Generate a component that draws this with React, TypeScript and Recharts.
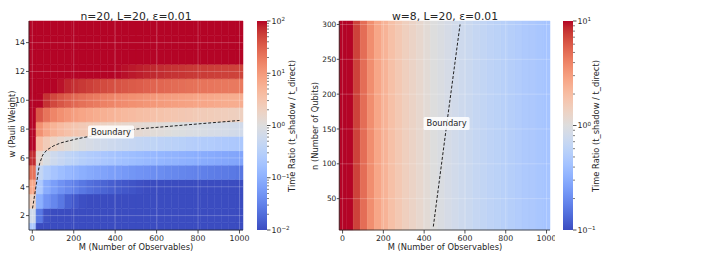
import React from 'react';
import {
  ComposedChart,
  XAxis,
  YAxis,
  ReferenceArea,
  ReferenceLine,
  ReferenceDot,
  Line,
} from 'recharts';

const FONT = '"DejaVu Sans", Verdana, sans-serif';
const INK = '#262626';

// ---------- categories ----------
const observablesM = [1, 35, 70, 104, 139, 173, 208, 242, 277, 311, 345, 380, 414, 449, 483, 518, 552, 587, 621, 656, 690, 724, 759, 793, 828, 862, 897, 931, 966, 1000];
const pauliWeightW = [1, 2, 3, 4, 5, 6, 7, 8, 9, 10, 11, 12, 13, 14, 15];
const qubitsN = [10, 20, 30, 40, 50, 60, 70, 80, 90, 100, 110, 120, 130, 140, 150, 160, 170, 180, 190, 200, 210, 220, 230, 240, 250, 260, 270, 280, 290, 300];

// ---------- left panel: log10(time ratio) per Pauli weight row ----------
const logRatioW1 = [-0.65, -2.1, -2.3, -2.4, -2.5, -2.55, -2.6, -2.65, -2.7, -2.7, -2.75, -2.8, -2.8, -2.85, -2.85, -2.9, -2.9, -2.95, -2.95, -3.0, -3.0, -3.0, -3.05, -3.05, -3.1, -3.1, -3.1, -3.15, -3.15, -3.15];
const logRatioW2 = [-0.2, -1.6, -1.95, -2.1, -2.2, -2.3, -2.35, -2.4, -2.45, -2.5, -2.55, -2.6, -2.6, -2.65, -2.7, -2.7, -2.75, -2.75, -2.8, -2.8, -2.85, -2.85, -2.9, -2.9, -2.9, -2.95, -2.95, -3.0, -3.0, -3.0];
const logRatioW3 = [0.3, -1.0, -1.3, -1.45, -1.6, -1.8, -1.9, -1.97, -2.02, -2.06, -2.1, -2.14, -2.18, -2.21, -2.24, -2.27, -2.3, -2.32, -2.35, -2.37, -2.39, -2.41, -2.43, -2.45, -2.47, -2.49, -2.51, -2.53, -2.54, -2.56];
const logRatioW4 = [0.85, -0.62, -1.05, -1.2, -1.33, -1.43, -1.52, -1.6, -1.67, -1.73, -1.78, -1.83, -1.87, -1.9, -1.93, -1.96, -1.99, -2.02, -2.04, -2.06, -2.08, -2.1, -2.12, -2.14, -2.16, -2.18, -2.2, -2.21, -2.23, -2.25];
const logRatioW5 = [1.35, -0.35, -0.57, -0.71, -0.81, -0.89, -0.96, -1.01, -1.07, -1.11, -1.15, -1.19, -1.22, -1.26, -1.29, -1.32, -1.34, -1.37, -1.39, -1.42, -1.44, -1.46, -1.48, -1.5, -1.52, -1.54, -1.56, -1.57, -1.59, -1.61];
const logRatioW6 = [1.85, 0.13, -0.09, -0.23, -0.33, -0.41, -0.48, -0.54, -0.59, -0.63, -0.67, -0.71, -0.75, -0.78, -0.81, -0.84, -0.87, -0.89, -0.92, -0.94, -0.96, -0.98, -1.0, -1.02, -1.04, -1.06, -1.08, -1.1, -1.11, -1.13];
const logRatioW7 = [2.3, 0.61, 0.39, 0.25, 0.15, 0.07, 0.0, -0.06, -0.11, -0.16, -0.2, -0.24, -0.27, -0.3, -0.33, -0.36, -0.39, -0.41, -0.44, -0.46, -0.48, -0.5, -0.53, -0.55, -0.57, -0.58, -0.6, -0.62, -0.64, -0.65];
const logRatioW8 = [2.6, 1.09, 0.86, 0.73, 0.62, 0.54, 0.48, 0.42, 0.37, 0.32, 0.28, 0.24, 0.21, 0.18, 0.15, 0.12, 0.09, 0.06, 0.04, 0.02, -0.01, -0.03, -0.05, -0.07, -0.09, -0.11, -0.12, -0.14, -0.16, -0.18];
const logRatioW9 = [2.9, 1.56, 1.34, 1.2, 1.1, 1.02, 0.95, 0.89, 0.84, 0.8, 0.76, 0.72, 0.69, 0.65, 0.62, 0.59, 0.57, 0.54, 0.52, 0.49, 0.47, 0.45, 0.43, 0.41, 0.39, 0.37, 0.35, 0.34, 0.32, 0.3];
const logRatioW10 = [3.2, 2.04, 1.82, 1.68, 1.58, 1.5, 1.43, 1.37, 1.32, 1.28, 1.23, 1.2, 1.16, 1.13, 1.1, 1.07, 1.04, 1.02, 0.99, 0.97, 0.95, 0.93, 0.91, 0.89, 0.87, 0.85, 0.83, 0.81, 0.8, 0.78];
const logRatioW11 = [3.4, 2.42, 2.19, 2.06, 1.95, 1.88, 1.83, 1.78, 1.74, 1.7, 1.66, 1.63, 1.6, 1.57, 1.54, 1.52, 1.49, 1.47, 1.45, 1.43, 1.41, 1.39, 1.37, 1.36, 1.34, 1.33, 1.32, 1.31, 1.3, 1.29];
const logRatioW12 = [3.9, 2.91, 2.69, 2.55, 2.45, 2.37, 2.3, 2.25, 2.19, 2.15, 2.08, 2.03, 1.99, 1.96, 1.93, 1.91, 1.89, 1.87, 1.85, 1.83, 1.81, 1.8, 1.78, 1.77, 1.76, 1.75, 1.74, 1.73, 1.72, 1.71];
const logRatioW13 = [4.2, 3.4, 3.2, 3.0, 2.9, 2.85, 2.8, 2.7, 2.65, 2.6, 2.6, 2.55, 2.5, 2.5, 2.45, 2.45, 2.4, 2.4, 2.35, 2.35, 2.35, 2.3, 2.3, 2.3, 2.25, 2.25, 2.25, 2.2, 2.2, 2.2];
const logRatioW14 = [4.7, 3.9, 3.7, 3.5, 3.4, 3.3, 3.3, 3.2, 3.1, 3.1, 3.1, 3.0, 3.0, 3.0, 2.9, 2.9, 2.9, 2.9, 2.8, 2.8, 2.8, 2.8, 2.8, 2.8, 2.7, 2.7, 2.7, 2.7, 2.7, 2.7];
const logRatioW15 = [5.2, 4.4, 4.2, 4.0, 3.9, 3.8, 3.8, 3.7, 3.6, 3.6, 3.6, 3.5, 3.5, 3.5, 3.4, 3.4, 3.4, 3.4, 3.3, 3.3, 3.3, 3.3, 3.3, 3.3, 3.2, 3.2, 3.2, 3.2, 3.2, 3.2];
const leftRows = [logRatioW1, logRatioW2, logRatioW3, logRatioW4, logRatioW5, logRatioW6, logRatioW7, logRatioW8, logRatioW9, logRatioW10, logRatioW11, logRatioW12, logRatioW13, logRatioW14, logRatioW15];

// ---------- right panel: log10(time ratio) per M column (w=8) ----------
const logRatioRight = [1.5, 1.15, 0.86, 0.7, 0.56, 0.44, 0.36, 0.28, 0.22, 0.16, 0.12, 0.08, 0.04, 0.0, -0.03, -0.06, -0.09, -0.12, -0.14, -0.17, -0.19, -0.21, -0.23, -0.25, -0.27, -0.29, -0.31, -0.32, -0.34, -0.36];

// ---------- boundary curves (ratio = 1) ----------
const boundaryLeft = [
  { M: 1, w: 2.5 },
  { M: 35, w: 5.6 },
  { M: 50, w: 6.2 },
  { M: 70, w: 6.55 },
  { M: 104, w: 6.85 },
  { M: 139, w: 7.05 },
  { M: 208, w: 7.3 },
  { M: 277, w: 7.5 },
  { M: 500, w: 8.0 },
  { M: 1000, w: 8.6 },
];
const boundaryRight = [
  { M: 445, n: 10 },
  { M: 510, n: 155 },
  { M: 576, n: 300 },
];
const boundaryLabelLeft = { M: 380, w: 7.8 };
const boundaryLabelRight = { M: 510, n: 158 };

// ---------- ticks / labels ----------
const mTicks = [0, 200, 400, 600, 800, 1000];
const wTicks = [2, 4, 6, 8, 10, 12, 14];
const nTicks = [50, 100, 150, 200, 250, 300];
const cbLeftMajor = [0.01, 0.1, 1, 10, 100];
const cbRightMajor = [0.1, 1, 10];
const minorSteps = [2, 3, 4, 5, 6, 7, 8, 9];
const W_AXIS_MIN = 1;

// ---------- coolwarm colormap ----------
const COOLWARM: number[][] = [
  [59, 76, 192], [68, 90, 204], [77, 104, 215], [87, 117, 225], [98, 130, 234], [108, 142, 241],
  [119, 154, 247], [130, 165, 251], [141, 176, 254], [152, 185, 255], [163, 194, 255], [174, 201, 253],
  [184, 208, 249], [194, 213, 244], [204, 217, 238], [213, 219, 230], [221, 221, 221], [229, 216, 209],
  [236, 211, 197], [241, 204, 185], [245, 196, 173], [247, 187, 160], [247, 177, 148], [247, 166, 135],
  [244, 154, 123], [241, 141, 111], [236, 127, 99], [229, 112, 88], [222, 96, 77], [213, 80, 66],
  [203, 62, 56], [192, 40, 47], [180, 4, 38],
];
function coolwarm(t: number): string {
  const tt = Math.max(0, Math.min(1, t));
  const p = tt * (COOLWARM.length - 1);
  const i = Math.min(Math.floor(p), COOLWARM.length - 2);
  const f = p - i;
  const a = COOLWARM[i];
  const b = COOLWARM[i + 1];
  const c = a.map((v, k) => Math.round(v + (b[k] - v) * f));
  return `rgb(${c[0]},${c[1]},${c[2]})`;
}

function edges(v: number[]): number[] {
  const e = [v[0] - (v[1] - v[0]) / 2];
  for (let i = 1; i < v.length; i++) e.push((v[i - 1] + v[i]) / 2);
  e.push(v[v.length - 1] + (v[v.length - 1] - v[v.length - 2]) / 2);
  return e;
}

const mEdges = edges(observablesM);
const wEdges = edges(pauliWeightW);
const nEdges = edges(qubitsN);

const axisTick = { fontSize: 7.8, fill: INK };
const axisStroke = { stroke: INK, strokeWidth: 0.8 };

const BoundaryLabel = (props: any) => {
  const vb = props.viewBox || {};
  const cx = (vb.x ?? 0) + (vb.width ?? 0) / 2;
  const cy = (vb.y ?? 0) + (vb.height ?? 0) / 2;
  return (
    <g>
      <rect x={cx - 23} y={cy - 6.5} width={46} height={13} rx={1.5} fill="#ffffff" fillOpacity={0.85} />
      <text x={cx} y={cy} dy="0.35em" textAnchor="middle" fontSize={8.3} fill={INK}>
        Boundary
      </text>
    </g>
  );
};

const CbTick = (props: any) => {
  const { x, y, payload } = props;
  const v = payload.value;
  const lg = Math.log10(v);
  const e = Math.round(lg);
  const major = Math.abs(lg - e) < 1e-6;
  const x0 = x - 4.5;
  return (
    <g>
      <line x1={x0} x2={x0 + (major ? 3.5 : 2)} y1={y} y2={y} stroke={INK} strokeWidth={major ? 0.8 : 0.6} />
      {major && (
        <text x={x} y={y} dy="0.33em" fontSize={7.8} fill={INK}>
          10
          <tspan dy="-0.45em" fontSize={5.6}>
            {e < 0 ? '\u2212' + -e : String(e)}
          </tspan>
        </text>
      )}
    </g>
  );
};

function ColorBar({ left, majors, id }: { left: number; majors: number[]; id: string }) {
  const domain = [majors[0], majors[majors.length - 1]];
  const ticks: number[] = [];
  majors.forEach((d, i) => {
    ticks.push(d);
    if (i < majors.length - 1) minorSteps.forEach((s) => ticks.push(d * s));
  });
  return (
    <div style={{ position: 'absolute', left, top: 0 }}>
      <ComposedChart width={48} height={262} margin={{ top: 21, right: 0, left: 7, bottom: 32 }} data={[{ x: 0 }, { x: 1 }]}>
        <defs>
          <linearGradient id={id} x1="0" y1="1" x2="0" y2="0">
            {COOLWARM.map((c, i) => (
              <stop key={i} offset={`${(i / (COOLWARM.length - 1)) * 100}%`} stopColor={`rgb(${c[0]},${c[1]},${c[2]})`} />
            ))}
          </linearGradient>
        </defs>
        <XAxis type="number" dataKey="x" domain={[0, 1]} hide />
        <YAxis
          type="number"
          orientation="right"
          scale="log"
          domain={domain}
          allowDataOverflow
          ticks={ticks}
          interval={0}
          width={31}
          axisLine={false}
          tickLine={false}
          tickSize={3.5}
          tickMargin={1}
          tick={<CbTick />}
        />
        <ReferenceArea x1={0} x2={1} y1={domain[0]} y2={domain[1]} fill={`url(#${id})`} fillOpacity={1} ifOverflow="visible" />
      </ComposedChart>
    </div>
  );
}

function LeftHeatmap() {
  const cells: React.ReactNode[] = [];
  pauliWeightW.forEach((w, r) => {
    observablesM.forEach((m, c) => {
      const v = leftRows[r][c];
      if (v === undefined) return;
      const color = coolwarm((v + 2) / 4);
      cells.push(
        <ReferenceArea
          key={`L${r}-${c}`}
          x1={mEdges[c]}
          x2={mEdges[c + 1]}
          y1={Math.max(wEdges[r], W_AXIS_MIN)}
          y2={wEdges[r + 1]}
          fill={color}
          fillOpacity={1}
          stroke={color}
          strokeWidth={0.5}
          ifOverflow="visible"
        />
      );
    });
  });
  return (
    <div style={{ position: 'absolute', left: 0, top: 0 }}>
      <ComposedChart width={250} height={262} data={boundaryLeft} margin={{ top: 21, right: 7, left: 0, bottom: 0 }}>
        <XAxis
          type="number"
          dataKey="M"
          domain={[mEdges[0], mEdges[mEdges.length - 1]]}
          allowDataOverflow
          ticks={mTicks}
          interval={0}
          height={32}
          tick={axisTick}
          tickLine={axisStroke}
          axisLine={axisStroke}
          tickSize={3.5}
          tickMargin={2}
        />
        <YAxis
          type="number"
          domain={[W_AXIS_MIN, wEdges[wEdges.length - 1]]}
          allowDataOverflow
          ticks={wTicks}
          interval={0}
          width={29}
          tick={axisTick}
          tickLine={axisStroke}
          axisLine={axisStroke}
          tickSize={3}
          tickMargin={1}
        />
        {cells}
        {mTicks.map((t) => (
          <ReferenceLine key={`gx${t}`} x={t} stroke="#ffffff" strokeOpacity={0.28} strokeWidth={0.8} />
        ))}
        {wTicks.map((t) => (
          <ReferenceLine key={`gy${t}`} y={t} stroke="#ffffff" strokeOpacity={0.28} strokeWidth={0.8} />
        ))}
        <Line dataKey="w" type="linear" stroke="#222" strokeWidth={1} strokeDasharray="3 1.8" dot={false} isAnimationActive={false} />
        <ReferenceDot x={boundaryLabelLeft.M} y={boundaryLabelLeft.w} r={1} fill="none" stroke="none" label={<BoundaryLabel />} />
      </ComposedChart>
    </div>
  );
}

function RightHeatmap() {
  const cells = observablesM.map((m, c) => {
    const color = coolwarm((logRatioRight[c] + 1) / 2);
    return (
      <ReferenceArea
        key={`R${c}`}
        x1={mEdges[c]}
        x2={mEdges[c + 1]}
        y1={nEdges[0]}
        y2={nEdges[nEdges.length - 1]}
        fill={color}
        fillOpacity={1}
        stroke={color}
        strokeWidth={0.5}
        ifOverflow="visible"
      />
    );
  });
  return (
    <div style={{ position: 'absolute', left: 310, top: 0 }}>
      <ComposedChart width={245} height={262} data={boundaryRight} margin={{ top: 21, right: 5, left: 0, bottom: 0 }}>
        <XAxis
          type="number"
          dataKey="M"
          domain={[mEdges[0], mEdges[mEdges.length - 1]]}
          allowDataOverflow
          ticks={mTicks}
          interval={0}
          height={32}
          tick={axisTick}
          tickLine={axisStroke}
          axisLine={axisStroke}
          tickSize={3.5}
          tickMargin={2}
        />
        <YAxis
          type="number"
          domain={[nEdges[0], nEdges[nEdges.length - 1]]}
          allowDataOverflow
          ticks={nTicks}
          interval={0}
          width={29.3}
          tick={{ fontSize: 7.4, fill: INK }}
          tickLine={axisStroke}
          axisLine={axisStroke}
          tickSize={2.5}
          tickMargin={0.5}
        />
        {cells}
        {mTicks.map((t) => (
          <ReferenceLine key={`gx${t}`} x={t} stroke="#ffffff" strokeOpacity={0.28} strokeWidth={0.8} />
        ))}
        {nTicks.map((t) => (
          <ReferenceLine key={`gy${t}`} y={t} stroke="#ffffff" strokeOpacity={0.28} strokeWidth={0.8} />
        ))}
        <Line dataKey="n" type="linear" stroke="#222" strokeWidth={1} strokeDasharray="3 1.8" dot={false} isAnimationActive={false} />
        <ReferenceDot x={boundaryLabelRight.M} y={boundaryLabelRight.n} r={1} fill="none" stroke="none" label={<BoundaryLabel />} />
      </ComposedChart>
    </div>
  );
}

export default function App() {
  return (
    <div style={{ position: 'absolute', left: 0, top: 0, width: 718, height: 262, background: '#ffffff', fontFamily: FONT, overflow: 'hidden' }}>
      <LeftHeatmap />
      <ColorBar left={250} majors={cbLeftMajor} id="cbLeft" />
      <RightHeatmap />
      <ColorBar left={556} majors={cbRightMajor} id="cbRight" />
      <svg width={718} height={262} style={{ position: 'absolute', left: 0, top: 0, pointerEvents: 'none' }}>
        <text x={136} y={19.5} textAnchor="middle" fontSize={10.8} fill={INK}>n=20, L=20, ε=0.01</text>
        <text x={445} y={19.5} textAnchor="middle" fontSize={10.8} fill={INK}>w=8, L=20, ε=0.01</text>
        <text x={136} y={250} textAnchor="middle" fontSize={8.3} fill={INK}>M (Number of Observables)</text>
        <text x={445} y={250} textAnchor="middle" fontSize={8.3} fill={INK}>M (Number of Observables)</text>
        <text transform="translate(11.5,124) rotate(-90)" textAnchor="middle" dominantBaseline="central" fontSize={8.3} fill={INK}>w (Pauli Weight)</text>
        <text transform="translate(315,126) rotate(-90)" textAnchor="middle" dominantBaseline="central" fontSize={8.3} fill={INK}>n (Number of Qubits)</text>
        <text transform="translate(291.7,126) rotate(-90)" textAnchor="middle" dominantBaseline="central" fontSize={8.3} fill={INK}>Time Ratio (t_shadow / t_direct)</text>
        <text transform="translate(596,126) rotate(-90)" textAnchor="middle" dominantBaseline="central" fontSize={8.3} fill={INK}>Time Ratio (t_shadow / t_direct)</text>
      </svg>
    </div>
  );
}
